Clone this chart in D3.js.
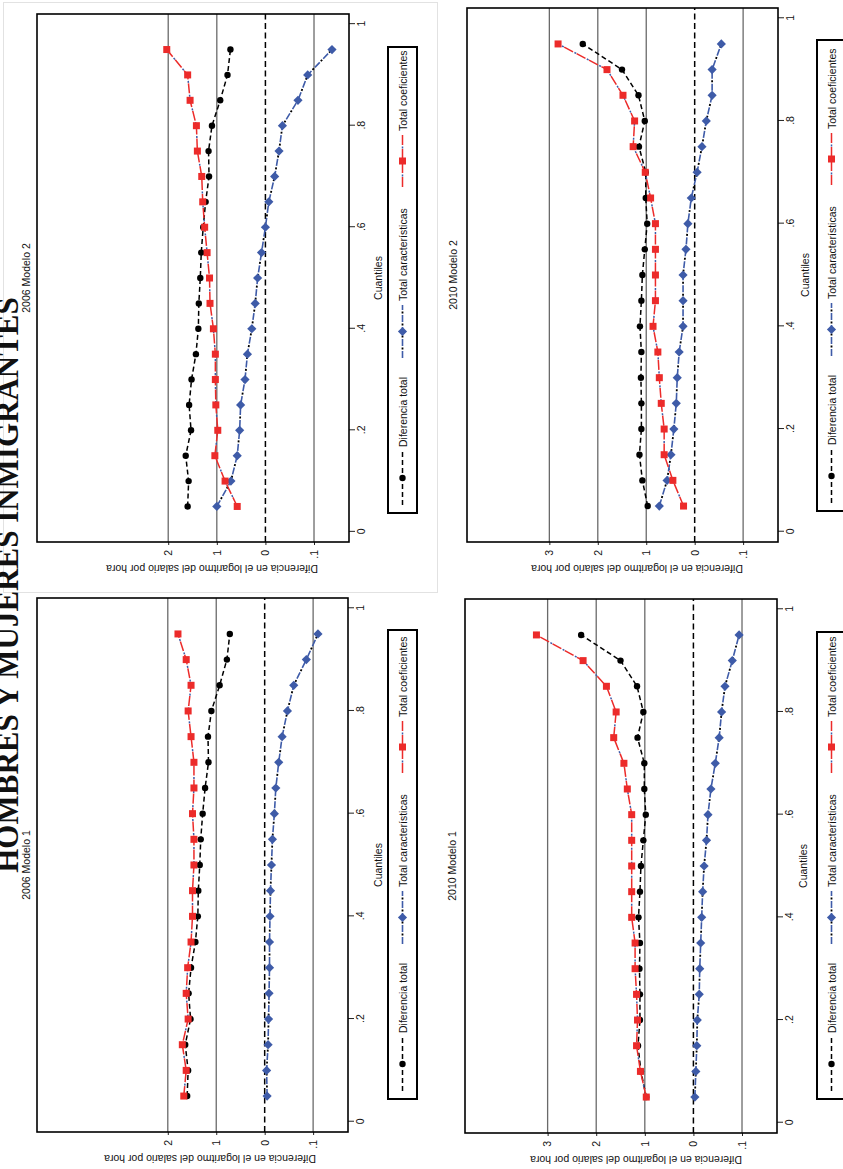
<!DOCTYPE html>
<html>
<head>
<meta charset="utf-8">
<script src="https://cdn.jsdelivr.net/npm/d3@7"></script>
<style>
  body { margin: 0; background: #fff; }
  svg { display: block; font-family: "Liberation Sans", Arial, sans-serif; }
</style>
</head>
<body>
<svg id="chart" width="843" height="1169"></svg>
<script>
// quantiles of the wage distribution
const quantiles = [0.05, 0.10, 0.15, 0.20, 0.25, 0.30, 0.35, 0.40, 0.45, 0.50,
                   0.55, 0.60, 0.65, 0.70, 0.75, 0.80, 0.85, 0.90, 0.95];

// 2006 (same total gap in both models)
const difTotal2006 = [0.160, 0.158, 0.164, 0.153, 0.157, 0.152, 0.143, 0.138, 0.137, 0.134,
                      0.132, 0.128, 0.123, 0.116, 0.117, 0.110, 0.093, 0.078, 0.072];
const carac2006m1 = [-0.005, -0.004, -0.007, -0.008, -0.009, -0.010, -0.010, -0.011, -0.012, -0.014,
                     -0.016, -0.020, -0.023, -0.029, -0.036, -0.047, -0.060, -0.086, -0.110];
const coef2006m1 = [0.167, 0.162, 0.170, 0.158, 0.162, 0.159, 0.152, 0.149, 0.149, 0.146,
                    0.146, 0.149, 0.146, 0.146, 0.152, 0.158, 0.152, 0.162, 0.179];
const carac2006m2 = [0.100, 0.071, 0.058, 0.053, 0.051, 0.042, 0.037, 0.028, 0.021, 0.016,
                     0.008, 0.000, -0.007, -0.019, -0.028, -0.035, -0.067, -0.087, -0.137];
const coef2006m2 = [0.058, 0.083, 0.104, 0.098, 0.102, 0.103, 0.103, 0.107, 0.114, 0.115,
                    0.120, 0.125, 0.129, 0.131, 0.140, 0.142, 0.155, 0.160, 0.203];

// 2010 (same total gap in both models)
const difTotal2010 = [0.097, 0.108, 0.114, 0.110, 0.110, 0.111, 0.110, 0.113, 0.110, 0.108,
                      0.103, 0.098, 0.101, 0.101, 0.115, 0.103, 0.116, 0.150, 0.231];
const carac2010m1 = [-0.003, -0.005, -0.007, -0.008, -0.012, -0.013, -0.015, -0.017, -0.019, -0.022,
                     -0.027, -0.030, -0.036, -0.045, -0.053, -0.058, -0.065, -0.080, -0.094];
const coef2010m1 = [0.097, 0.109, 0.117, 0.115, 0.117, 0.120, 0.120, 0.127, 0.127, 0.127,
                    0.127, 0.127, 0.136, 0.143, 0.164, 0.159, 0.179, 0.227, 0.323];
const carac2010m2 = [0.073, 0.057, 0.049, 0.043, 0.038, 0.036, 0.032, 0.024, 0.024, 0.024,
                     0.018, 0.014, 0.007, -0.005, -0.015, -0.024, -0.036, -0.036, -0.055];
const coef2010m2 = [0.023, 0.045, 0.063, 0.063, 0.069, 0.073, 0.076, 0.086, 0.081, 0.081,
                    0.081, 0.081, 0.091, 0.102, 0.127, 0.124, 0.148, 0.181, 0.282];

const quantileTicks = [0, 0.2, 0.4, 0.6, 0.8, 1];
const quantileTickLabels = ["0", ".2", ".4", ".6", ".8", "1"];
const valueTicks2006 = [0.2, 0.1, 0, -0.1];
const valueTickLabels2006 = ["2", "1", "0", ".1"];
const valueTicks2010 = [0.3, 0.2, 0.1, 0, -0.1];
const valueTickLabels2010 = ["3", "2", "1", "0", ".1"];
const seriesNames = ["Diferencia total", "Total características", "Total coeficientes"];

const mainTitle = "HOMBRES Y MUJERES INMIGRANTES";
const xTitle = "Cuantiles";
const yTitle = "Diferencia en el logaritmo del salario por hora";

const RED = "#ec2b2a", BLUE = "#3e5ba8", BLACK = "#000";

// page is printed sideways: every panel is drawn upright, then turned -90deg
const panels = [
  { title: "2006 Modelo 2", dif: difTotal2006, car: carac2006m2, coef: coef2006m2,
    ticks: valueTicks2006, labels: valueTickLabels2006,
    x0: 37, x1: 349, y0: 14, y1: 542, titleX: 26, cuantX: 378, yTitleX: 212,
    legX: 388, legTop: 47, legBottom: 513 },
  { title: "2006 Modelo 1", dif: difTotal2006, car: carac2006m1, coef: coef2006m1,
    ticks: valueTicks2006, labels: valueTickLabels2006,
    x0: 37, x1: 348, y0: 598, y1: 1132, titleX: 26, cuantX: 378, yTitleX: 210,
    legX: 388, legTop: 630, legBottom: 1099 },
  { title: "2010 Modelo 2", dif: difTotal2010, car: carac2010m2, coef: coef2010m2,
    ticks: valueTicks2010, labels: valueTickLabels2010,
    x0: 467, x1: 778, y0: 8, y1: 542, titleX: 453, cuantX: 805, yTitleX: 637,
    legX: 817, legTop: 40, legBottom: 511 },
  { title: "2010 Modelo 1", dif: difTotal2010, car: carac2010m1, coef: coef2010m1,
    ticks: valueTicks2010, labels: valueTickLabels2010,
    x0: 465, x1: 777, y0: 599, y1: 1133, titleX: 452, cuantX: 803, yTitleX: 636,
    legX: 817, legTop: 632, legBottom: 1099 }
];

const svg = d3.select("#chart");
svg.append("rect").attr("width", 843).attr("height", 1169).attr("fill", "#fff");
svg.append("rect")
  .attr("x", 3.5).attr("y", 2.5).attr("width", 434).attr("height", 590)
  .attr("fill", "#fff").attr("stroke", "#e2e2e2");

const diamond = r => `M0,${-r}L${r},0L0,${r}L${-r},0Z`;

function styleLine(sel, kind) {
  if (kind === "dif") {
    sel.append("path").attr("class", "ln").attr("stroke", BLACK)
      .attr("stroke-width", 1.5).attr("stroke-dasharray", "5,3");
  } else if (kind === "car") {
    sel.append("path").attr("class", "ln").attr("stroke", BLUE)
      .attr("stroke-width", 1.6).attr("stroke-dasharray", "7,5");
    sel.append("path").attr("class", "ln").attr("stroke", BLACK)
      .attr("stroke-width", 1.8).attr("stroke-dasharray", "0,8.5,2,1.5");
  } else {
    sel.append("path").attr("class", "ln").attr("stroke", RED)
      .attr("stroke-width", 1.5).attr("stroke-dasharray", "10,4");
    sel.append("path").attr("class", "ln").attr("stroke", BLUE)
      .attr("stroke-width", 1.5).attr("stroke-dasharray", "0,10.5,2,1.5");
  }
}

function drawMarkers(sel, kind, pts) {
  if (kind === "dif") {
    sel.selectAll("circle").data(pts).join("circle")
      .attr("cx", d => d[0]).attr("cy", d => d[1]).attr("r", 3.2).attr("fill", BLACK);
  } else if (kind === "car") {
    sel.selectAll("path.mk").data(pts).join("path").attr("class", "mk")
      .attr("transform", d => `translate(${d[0]},${d[1]})`)
      .attr("d", diamond(4.6)).attr("fill", BLUE);
  } else {
    sel.selectAll("rect.mk").data(pts).join("rect").attr("class", "mk")
      .attr("x", d => d[0] - 3.5).attr("y", d => d[1] - 3.5)
      .attr("width", 7).attr("height", 7).attr("fill", RED);
  }
}

function drawPanel(p) {
  const W = p.y1 - p.y0, H = p.x1 - p.x0;
  const g = svg.append("g").attr("transform", `translate(${p.x0},${p.y1}) rotate(-90)`);

  const x = d3.scaleLinear().domain([-0.02, 1.02]).range([0, W]);
  const y = d3.scaleLinear().domain([-0.172, 0.47]).range([H, 0]);

  g.selectAll("line.grid").data(p.ticks.filter(t => t !== 0)).join("line")
    .attr("class", "grid")
    .attr("x1", 0).attr("x2", W).attr("y1", d => y(d)).attr("y2", d => y(d))
    .attr("stroke", "#6a6a6a").attr("stroke-width", 1.3);
  g.append("line")
    .attr("x1", 0).attr("x2", W).attr("y1", y(0)).attr("y2", y(0))
    .attr("stroke", BLACK).attr("stroke-width", 1.5).attr("stroke-dasharray", "6,3.5");

  // quantile axis (right side of the page)
  const xa = g.append("g").attr("transform", `translate(0,${H})`)
    .call(d3.axisBottom(x).tickValues(quantileTicks)
      .tickFormat((d, i) => quantileTickLabels[i]).tickSize(6).tickPadding(3));
  xa.select(".domain").remove();
  xa.selectAll("text").attr("font-size", 10.5).attr("font-family", "Liberation Sans, Arial, sans-serif").attr("fill", "#111");
  xa.selectAll("line").attr("stroke", "#222");

  // value axis (bottom of the page)
  const ya = g.append("g")
    .call(d3.axisLeft(y).tickValues(p.ticks)
      .tickFormat((d, i) => p.labels[i]).tickSize(3).tickPadding(5));
  ya.select(".domain").remove();
  ya.selectAll("text").attr("font-size", 10.5).attr("font-family", "Liberation Sans, Arial, sans-serif").attr("fill", "#111");
  ya.selectAll("line").attr("stroke", "#222");

  const line = d3.line().x((d, i) => x(quantiles[i])).y(d => y(d));

  [["dif", p.dif], ["car", p.car], ["coef", p.coef]].forEach(([kind, vals]) => {
    const s = g.append("g").attr("fill", "none");
    styleLine(s, kind);
    s.selectAll("path.ln").datum(vals).attr("d", line);
    drawMarkers(s, kind, vals.map((v, i) => [x(quantiles[i]), y(v)]));
  });

  g.append("rect").attr("x", 0).attr("y", 0).attr("width", W).attr("height", H)
    .attr("fill", "none").attr("stroke", BLACK).attr("stroke-width", 1.6);

  const cy = (p.y0 + p.y1) / 2;
  svg.append("text")
    .attr("transform", `translate(${p.titleX},${cy}) rotate(-90)`)
    .attr("text-anchor", "middle").attr("dominant-baseline", "central")
    .attr("font-size", 10.5).attr("fill", "#111").text(p.title);
  svg.append("text")
    .attr("transform", `translate(${p.cuantX},${cy}) rotate(-90)`)
    .attr("text-anchor", "middle").attr("dominant-baseline", "central")
    .attr("font-size", 10.5).attr("fill", "#111").text(xTitle);
  svg.append("text")
    .attr("transform", `translate(${p.yTitleX},${p.y1 + 27}) rotate(180)`)
    .attr("text-anchor", "middle").attr("dominant-baseline", "central")
    .attr("font-size", 10.5).attr("fill", "#111").text(yTitle);

  drawLegend(p);
}

// legend entries laid out along the (turned) legend box
const legendKeys = [
  { kind: "dif", from: 8, to: 62, text: 66 },
  { kind: "car", from: 155, to: 208, text: 212 },
  { kind: "coef", from: 326, to: 378, text: 382 }
];

function drawLegend(p) {
  const L = p.legBottom - p.legTop, h = 29;
  const lg = svg.append("g").attr("transform", `translate(${p.legX},${p.legBottom}) rotate(-90)`);
  lg.append("rect").attr("x", 0).attr("y", 0).attr("width", L).attr("height", h)
    .attr("fill", "#fff").attr("stroke", BLACK).attr("stroke-width", 2);
  legendKeys.forEach((k, i) => {
    const s = lg.append("g").attr("fill", "none");
    styleLine(s, k.kind);
    s.selectAll("path.ln").attr("d", `M${k.from},${h / 2}L${k.to},${h / 2}`);
    drawMarkers(s, k.kind, [[(k.from + k.to) / 2, h / 2]]);
    lg.append("text").attr("x", k.text).attr("y", h / 2)
      .attr("dominant-baseline", "central").attr("font-size", 10.5).attr("fill", "#111")
      .text(seriesNames[i]);
  });
}

panels.forEach(drawPanel);

svg.append("text")
  .attr("transform", "translate(18,585) rotate(-90)")
  .attr("text-anchor", "middle")
  .attr("font-family", "Liberation Serif, Times New Roman, serif")
  .attr("font-weight", "bold").attr("font-size", 31).attr("fill", "#111")
  .text(mainTitle);
</script>
</body>
</html>
